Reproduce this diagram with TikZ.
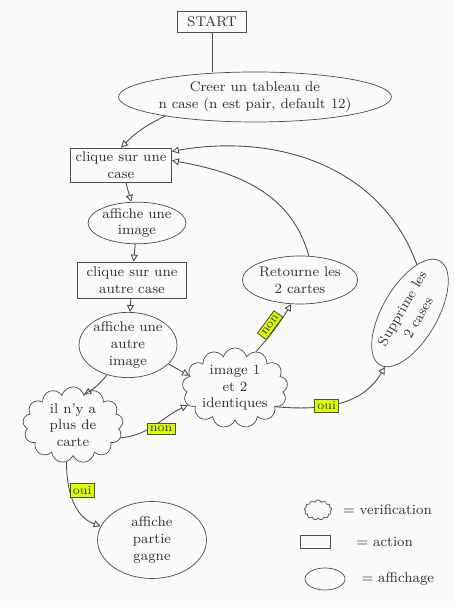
\documentclass[tikz,border=0pt]{standalone}
\usepackage{tikz}
\usetikzlibrary{shapes.geometric, shapes.symbols, positioning, arrows.meta}
\tikzset{
    >={Triangle[open, length=4pt, width=4pt]},          % Open arrow heads, like the sketch
    every node/.style={font=\footnotesize, align=center, text=black!80},
    action/.style={draw=black!70, rectangle, inner sep=2pt},                  % Boxes = action
    affichage/.style={draw=black!70, ellipse, inner sep=0pt},                 % Ellipses = affichage
    verification/.style={draw=black!70, cloud, cloud puffs=13, aspect=1.5, inner sep=0pt}, % Clouds = verification
    choix/.style={draw=black!70, fill=lime!55!yellow, inner sep=1.5pt, font=\scriptsize},
    fleche/.style={->, draw=black!70, line width=0.5pt}
}

\begin{document}
\begin{tikzpicture}[x=0.02cm, y=0.02cm]
    \fill[gray!4] (0,0) rectangle (455,607);
    \useasboundingbox (0,0) rectangle (455,607);

    % Main flow
    \node [action, minimum width=1.38cm, minimum height=0.42cm] (start) at (212,585) {START};
    \node [affichage, minimum width=4.7cm, minimum height=1cm] (creer) at (255,510) {Creer un tableau de\\n case (n est pair, default 12)};
    \node [action, minimum width=2.02cm, minimum height=0.68cm] (clique1) at (121,442) {clique sur une\\case};
    \node [affichage, minimum width=1.76cm, minimum height=0.8cm] (affiche1) at (137,384) {affiche une\\image};
    \node [action, minimum width=2.18cm, minimum height=0.72cm] (clique2) at (132,327) {clique sur une\\autre case};
    \node [affichage, minimum width=1.88cm, minimum height=1cm] (affiche2) at (128,262) {affiche une\\autre\\image};
    \node [verification, minimum width=1.86cm, minimum height=1.26cm] (vide) at (73,182) {il n'y a\\plus de\\carte};
    \node [verification, minimum width=2.04cm, minimum height=1.3cm] (paire) at (235,219) {image 1\\et 2\\identiques};
    \node [affichage, minimum width=2.1cm, minimum height=0.96cm] (retourne) at (300,327) {Retourne les\\2 cartes};
    \node [affichage, rotate=60, minimum width=2.4cm, minimum height=1.1cm] (supprime) at (410,294) {Supprime les\\[1pt]2 cases};
    \node [affichage, minimum width=2.18cm, minimum height=1.54cm] (gagne) at (152,67) {affiche\\partie\\gagne};

    \draw [draw=black!70, line width=0.5pt] (start.south) -- (start.south |- creer.north);
    \draw [fleche] (creer.192) to[bend right=10] (clique1.north);
    \draw [fleche] (clique1) -- (affiche1);
    \draw [fleche] (affiche1) -- (clique2);
    \draw [fleche] (clique2) -- (affiche2);
    \draw [fleche] (affiche2.-25) -- (paire.165);
    \draw [fleche] (affiche2.235) to[bend left=10] (vide.70);
    \draw [fleche] (vide.-15) to[out=5, in=205] node [choix, pos=0.6, below=1pt] {non} (paire.200);
    \draw [fleche] (paire.60) to[bend right=5] node [choix, sloped, above] {non} (retourne.250);
    \draw [fleche] (paire.-25) to[out=-5, in=-120] node [choix, pos=0.4] {oui} (supprime.185);
    \draw [fleche] (vide.-100) to[out=-90, in=160] node [choix, pos=0.35, right] {oui} (gagne.165);
    \draw [fleche] (retourne.70) to[out=105, in=-10] (clique1.5);
    \draw [fleche] (supprime.22) to[out=110, in=10] (clique1.15);

    % Legend
    \node [verification, minimum width=0.55cm, minimum height=0.4cm] (legverif) at (318,97) {};
    \node [right=1mm of legverif] (txtverif) {= verification};
    \node [action, minimum width=0.6cm, minimum height=0.26cm] (legaction) at (315,65) {};
    \node [right=4mm of legaction] (txtaction) {= action};
    \node [affichage, minimum width=0.8cm, minimum height=0.44cm] (legaffich) at (325,28) {};
    \node [right=2mm of legaffich] (txtaffich) {= affichage};
\end{tikzpicture}
\end{document}
